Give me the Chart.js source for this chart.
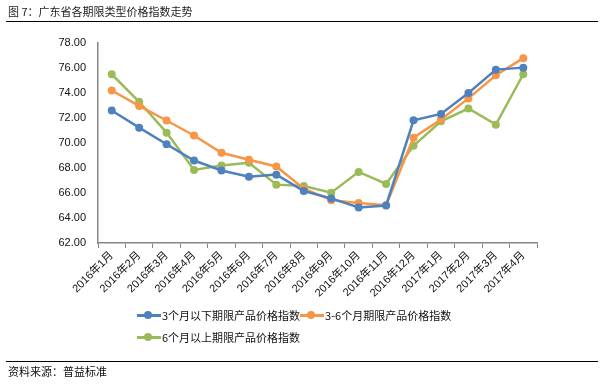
<!DOCTYPE html>
<html><head><meta charset="utf-8">
<script src="https://cdn.jsdelivr.net/npm/chart.js@4"></script>
<style>
html,body{margin:0;padding:0;background:#fff;}
body{width:602px;height:388px;position:relative;overflow:hidden;font-family:"Noto Sans CJK SC","Liberation Sans",sans-serif;}
#title{position:absolute;left:8px;top:3px;font-size:11px;color:#222;line-height:16px;}
#line1{position:absolute;left:6px;top:21px;width:592px;height:1px;background:#000;}
#line2{position:absolute;left:6px;top:361px;width:592px;height:1px;background:#000;}
#source{position:absolute;left:8px;top:363px;font-size:11px;color:#111;line-height:16px;}
#wrap{position:absolute;left:0;top:0;width:602px;height:388px;}
#legend{position:absolute;left:137px;top:304px;width:330px;font-size:11px;color:#111;line-height:16px;}
.li{display:inline-flex;align-items:center;height:22px;white-space:nowrap;}
.sym{position:relative;width:24px;height:10px;margin-right:1px;}
.sym .ln{position:absolute;left:0;top:4px;width:24px;height:2.5px;}
.sym .dt{position:absolute;left:7px;top:1px;width:8px;height:8px;border-radius:50%;}
</style></head>
<body>
<div id="wrap"><canvas id="c" width="602" height="388"></canvas></div>
<div id="title">图 7：广东省各期限类型价格指数走势</div>
<div id="line1"></div>
<div id="legend"></div>
<div id="line2"></div>
<div id="source">资料来源：普益标准</div>
<script>
const categories = ["2016年1月","2016年2月","2016年3月","2016年4月","2016年5月","2016年6月","2016年7月","2016年8月","2016年9月","2016年10月","2016年11月","2016年12月","2017年1月","2017年2月","2017年3月","2017年4月"];
const seriesNames = ["3个月以下期限产品价格指数","3-6个月期限产品价格指数","6个月以上期限产品价格指数"];
const under3 = [72.6,71.23,69.9,68.6,67.8,67.3,67.47,66.16,65.57,64.85,65.0,71.82,72.33,74.0,75.87,76.03];
const m3to6 = [74.2,72.97,71.8,70.6,69.22,68.66,68.12,66.35,65.43,65.2,65.03,70.43,71.88,73.57,75.42,76.79];
const over6 = [75.5,73.3,70.83,67.85,68.2,68.42,66.67,66.56,66.03,67.69,66.72,69.78,71.74,72.76,71.47,75.5];
const yTicks = [62,64,66,68,70,72,74,76,78];
const colors = ["#4F81BD","#F79646","#9BBB59"];
const seriesData = [under3, m3to6, over6];

const leg = document.getElementById('legend');
seriesNames.forEach((n,i)=>{
  const d = document.createElement('span'); d.className='li';
  d.innerHTML = '<span class="sym"><span class="ln" style="background:'+colors[i]+'"></span><span class="dt" style="background:'+colors[i]+'"></span></span>'+n;
  leg.appendChild(d);
  if(i===1) leg.appendChild(document.createElement('br'));
});

new Chart(document.getElementById('c'), {
  type:'line',
  data:{labels:categories, datasets: seriesData.map((d,i)=>({
    label:seriesNames[i], data:d, borderColor:colors[i], backgroundColor:colors[i],
    borderWidth:2.5, pointRadius:4, pointHoverRadius:4, tension:0, pointBorderWidth:0
  }))},
  options:{
    responsive:false, animation:false,
    layout:{padding:{left:0,top:43,right:65,bottom:84}},
    plugins:{legend:{display:false},tooltip:{enabled:false}},
    scales:{
      x:{offset:true,
        grid:{offset:true,drawOnChartArea:false,drawTicks:true,tickLength:5,color:'#868686',lineWidth:1},
        border:{display:true,color:'#868686',width:1.5},
        ticks:{autoSkip:false,maxRotation:45,minRotation:45,color:'#111',padding:1,font:{family:'"Liberation Sans","Noto Sans CJK SC",sans-serif',size:11}},
        afterFit:(s)=>{s.height=61;}
      },
      y:{min:62,max:78,
        afterBuildTicks:(s)=>{s.ticks=yTicks.map(v=>({value:v}));},
        grid:{drawOnChartArea:false,drawTicks:false},
        border:{display:true,color:'#868686',width:1.5},
        ticks:{color:'#111',padding:12,callback:(v)=>Number(v).toFixed(2),font:{family:'"Liberation Sans",sans-serif',size:11}},
        afterFit:(s)=>{s.width=98;}
      }
    }
  }
});
</script>
</body></html>
